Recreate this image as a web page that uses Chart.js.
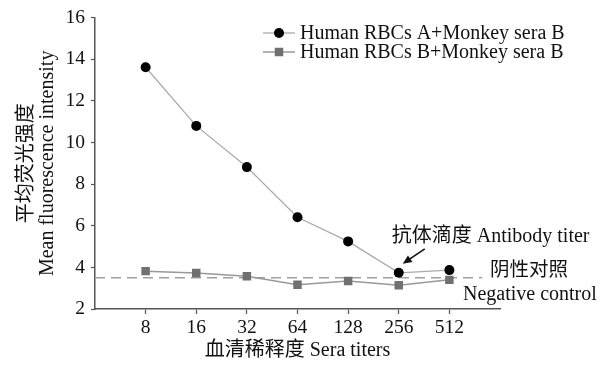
<!DOCTYPE html>
<html>
<head>
<meta charset="utf-8">
<script src="https://cdn.jsdelivr.net/npm/chart.js@4/dist/chart.umd.min.js"></script>
<style>
  html, body { margin: 0; padding: 0; background: #fff; }
  #wrap { width: 607px; height: 365px; position: relative; }
</style>
</head>
<body>
<div id="wrap"><canvas id="c" width="607" height="365"></canvas></div>
<script>
// Sera dilution titers (x categories)
const titers = ['8', '16', '32', '64', '128', '256', '512'];
// Mean fluorescence intensity per titer
const rbcA_seraB = [13.62, 10.80, 8.82, 6.41, 5.25, 3.74, 3.87];
const rbcB_seraB = [3.82, 3.73, 3.57, 3.17, 3.35, 3.14, 3.40];
// Negative control level
const negativeControl = 3.5;
const yTicks = [2, 4, 6, 8, 10, 12, 14, 16];

const serif = "'Liberation Serif', 'Times New Roman', 'Noto Sans CJK SC', serif";
const cjk = "'Liberation Serif', 'Noto Sans CJK SC', serif";

const toXY = arr => arr.map((v, i) => ({ x: i + 1, y: v }));

const annotations = {
  id: 'annotations',
  afterDatasetsDraw(chart) {
    const { ctx, scales: { x, y } } = chart;
    ctx.save();
    // legend
    const legendRows = [
      { ds: chart.data.datasets[0], yy: 33 },
      { ds: chart.data.datasets[1], yy: 52 }
    ];
    legendRows.forEach(({ ds, yy }) => {
      ctx.strokeStyle = ds.borderColor;
      ctx.lineWidth = ds.borderWidth;
      ctx.beginPath();
      ctx.moveTo(263, yy);
      ctx.lineTo(295, yy);
      ctx.stroke();
      ctx.fillStyle = ds.pointBackgroundColor;
      if (ds.pointStyle === 'rect') {
        const s = ds.pointRadius * Math.SQRT1_2;
        ctx.fillRect(279 - s, yy - s, 2 * s, 2 * s);
      } else {
        ctx.beginPath();
        ctx.arc(279, yy, ds.pointRadius, 0, Math.PI * 2);
        ctx.fill();
      }
      ctx.fillStyle = '#111';
      ctx.font = '20px ' + serif;
      ctx.textBaseline = 'middle';
      ctx.textAlign = 'left';
      ctx.fillText(ds.label, 300, yy + 1);
    });

    // antibody titer label + arrow pointing at the 256 point
    const px = x.getPixelForValue(6);
    const py = y.getPixelForValue(rbcA_seraB[5]);
    ctx.fillStyle = '#111';
    ctx.font = '20px ' + cjk;
    ctx.textBaseline = 'middle';
    ctx.fillText('抗体滴度 Antibody titer', px - 7, py - 36);

    const tx = px + 4, ty = py - 9;
    const sx = px + 26, sy = py - 24;
    const ang = Math.atan2(ty - sy, tx - sx);
    ctx.strokeStyle = '#111';
    ctx.lineWidth = 1.6;
    ctx.beginPath();
    ctx.moveTo(sx, sy);
    ctx.lineTo(tx - 6 * Math.cos(ang), ty - 6 * Math.sin(ang));
    ctx.stroke();
    ctx.beginPath();
    ctx.moveTo(tx, ty);
    ctx.lineTo(tx - 9 * Math.cos(ang) + 4 * Math.sin(ang), ty - 9 * Math.sin(ang) - 4 * Math.cos(ang));
    ctx.lineTo(tx - 9 * Math.cos(ang) - 4 * Math.sin(ang), ty - 9 * Math.sin(ang) + 4 * Math.cos(ang));
    ctx.closePath();
    ctx.fill();

    // negative control label
    const ny = y.getPixelForValue(negativeControl);
    ctx.font = '19.5px ' + cjk;
    ctx.fillText('阴性对照', 490, ny - 7);
    ctx.font = '20px ' + serif;
    ctx.fillText('Negative control', 463, ny + 17);
    ctx.restore();
  }
};

new Chart(document.getElementById('c'), {
  type: 'line',
  data: {
    datasets: [
      {
        label: 'Human RBCs A+Monkey sera B',
        data: toXY(rbcA_seraB),
        borderColor: '#ababab',
        borderWidth: 1.3,
        pointStyle: 'circle',
        pointRadius: 5,
        pointBackgroundColor: '#000',
        pointBorderColor: '#000',
        pointBorderWidth: 0,
        order: 1
      },
      {
        label: 'Human RBCs B+Monkey sera B',
        data: toXY(rbcB_seraB),
        borderColor: '#999',
        borderWidth: 1.5,
        pointStyle: 'rect',
        pointRadius: 6,
        pointBackgroundColor: '#707070',
        pointBorderColor: '#707070',
        pointBorderWidth: 0,
        order: 2
      },
      {
        label: 'Negative control',
        data: [{ x: 0, y: negativeControl }, { x: 7.65, y: negativeControl }],
        borderColor: '#a0a0a0',
        borderWidth: 1.5,
        borderDash: [10, 6],
        pointRadius: 0,
        order: 3
      }
    ]
  },
  options: {
    responsive: false,
    animation: false,
    events: [],
    layout: { padding: { top: 15, right: 107, bottom: 0, left: 0 } },
    plugins: { legend: { display: false }, tooltip: { enabled: false } },
    scales: {
      x: {
        type: 'linear',
        min: 0,
        max: 8,
        afterFit(s) { s.height = 56; },
        afterBuildTicks(s) { s.ticks = [0, 1, 2, 3, 4, 5, 6, 7, 8].map(v => ({ value: v })); },
        ticks: {
          callback: v => titers[v - 1] || '',
          color: '#111',
          font: { family: serif, size: 19.5 },
          padding: 2,
          maxRotation: 0,
          autoSkip: false
        },
        grid: {
          drawOnChartArea: false,
          tickLength: 5,
          tickColor: c => (c.tick && (c.tick.value === 0 || c.tick.value === 8)) ? 'rgba(0,0,0,0)' : '#555',
          tickWidth: 1.2
        },
        border: { color: '#555', width: 1.5 },
        title: {
          display: true,
          text: '血清稀释度 Sera titers',
          color: '#111',
          font: { family: cjk, size: 20, lineHeight: 1.05 },
          padding: { top: 0, bottom: 4 }
        }
      },
      y: {
        min: 2,
        max: 16,
        afterFit(s) { s.width = 95; },
        afterBuildTicks(s) { s.ticks = yTicks.map(v => ({ value: v })); },
        ticks: {
          color: '#111',
          font: { family: serif, size: 19.5 },
          padding: 6
        },
        grid: {
          drawOnChartArea: false,
          tickLength: 4,
          tickColor: '#555',
          tickWidth: 1.2
        },
        border: { color: '#555', width: 1.5 },
        title: {
          display: true,
          text: ['平均荧光强度', 'Mean fluorescence intensity'],
          color: '#111',
          font: { family: cjk, size: 20, lineHeight: 1.05 },
          padding: { top: 16, bottom: 0 }
        }
      }
    }
  },
  plugins: [annotations]
});
</script>
</body>
</html>
